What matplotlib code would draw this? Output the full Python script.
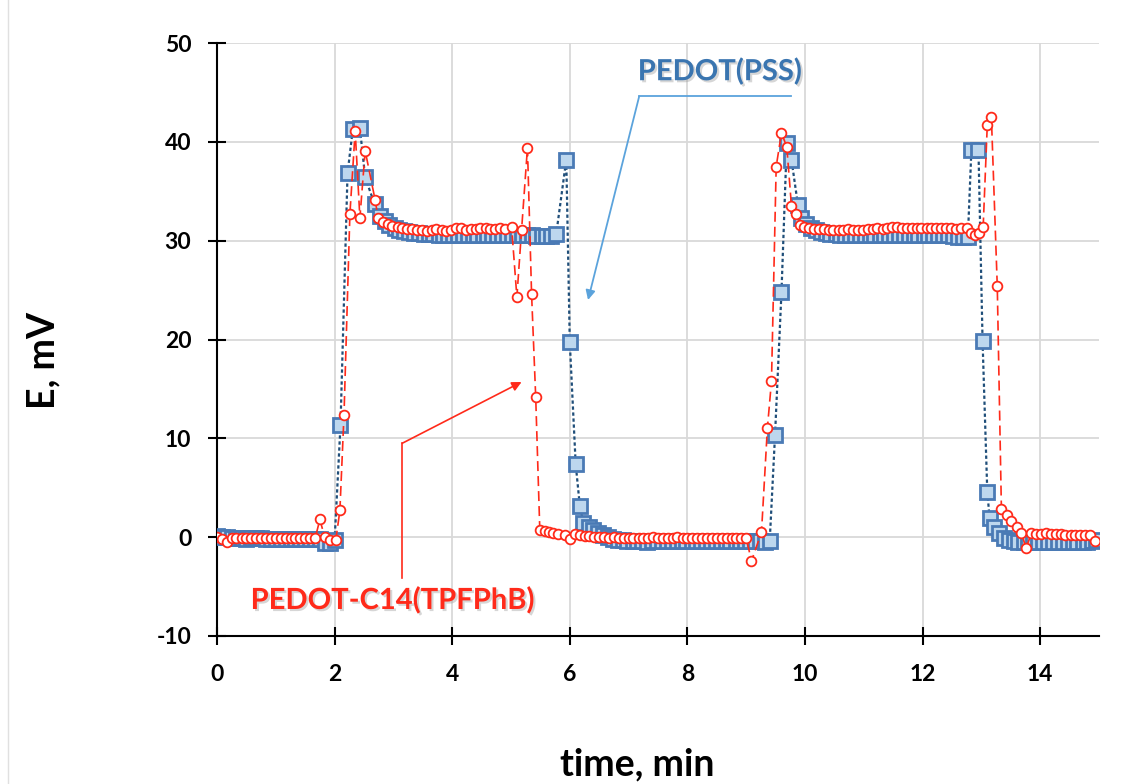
import matplotlib
matplotlib.use("Agg")
import matplotlib.pyplot as plt
import matplotlib.patheffects as pe

plt.rcParams['font.family'] = ['Lato', 'DejaVu Sans']
plt.rcParams['font.weight'] = 'bold'
plt.rcParams['axes.unicode_minus'] = False

# ---------------- data ----------------
pss_time = [0.00, 0.08, 0.17, 0.25, 0.33, 0.42, 0.50, 0.58, 0.67, 0.75, 0.83, 0.92, 1.00, 1.08, 1.17,
            1.25, 1.33, 1.42, 1.50, 1.58, 1.67, 1.75,
            1.83, 1.92, 2.00, 2.10, 2.22, 2.31, 2.43, 2.52, 2.68, 2.77, 2.85, 2.93, 3.02, 3.10, 3.18,
            3.27, 3.35,
            3.43, 3.52, 3.60, 3.68, 3.77, 3.85, 3.93, 4.02, 4.10, 4.18, 4.27, 4.35, 4.43, 4.52, 4.60,
            4.68, 4.77, 4.85, 4.93, 5.02, 5.10, 5.18, 5.27, 5.35, 5.43, 5.52, 5.60, 5.68,
            5.77, 5.94, 6.00, 6.10, 6.17, 6.23, 6.32, 6.40, 6.48, 6.57, 6.65, 6.73, 6.82, 6.90, 6.98,
            7.07, 7.15, 7.23, 7.32, 7.40, 7.48, 7.57, 7.65, 7.73, 7.82, 7.90, 7.98, 8.07, 8.15, 8.23,
            8.32, 8.40, 8.48, 8.57, 8.65, 8.73, 8.82, 8.90, 8.98, 9.07, 9.15, 9.23, 9.32, 9.40,
            9.49, 9.60, 9.69, 9.77, 9.88, 9.94, 10.02, 10.10, 10.18, 10.27, 10.35,
            10.43, 10.52, 10.60, 10.68, 10.77, 10.85, 10.93, 11.02, 11.10, 11.18, 11.27, 11.35, 11.43,
            11.52, 11.60, 11.68, 11.77, 11.85, 11.93, 12.02, 12.10, 12.18, 12.27, 12.35, 12.43, 12.52,
            12.60, 12.68, 12.77,
            12.83, 12.95, 13.02, 13.10, 13.14, 13.22, 13.30, 13.38, 13.47, 13.55, 13.63,
            13.72, 13.80, 13.88, 13.97, 14.05, 14.13, 14.22, 14.30, 14.38, 14.47, 14.55, 14.63, 14.72,
            14.80, 14.88, 14.95]
pss_mv = [0.1, 0.0, 0.0, -0.1, -0.1, -0.1, -0.2, -0.1, -0.1, -0.1, -0.2, -0.2, -0.2, -0.2, -0.2,
          -0.2, -0.2, -0.2, -0.2, -0.2, -0.2, -0.2,
          -0.6, -0.6, -0.3, 11.3, 36.8, 41.3, 41.4, 36.4, 33.7, 32.5, 32.0, 31.6, 31.3, 31.1, 31.0,
          30.9, 30.8,
          30.8, 30.7, 30.7, 30.7, 30.6, 30.6, 30.6, 30.6, 30.6, 30.6, 30.6, 30.6, 30.6, 30.6, 30.6,
          30.6, 30.6, 30.6, 30.6, 30.6, 30.6, 30.6, 30.6, 30.6, 30.5, 30.5, 30.5, 30.5,
          30.7, 38.2, 19.7, 7.4, 3.2, 1.4, 1.0, 0.7, 0.4, 0.2, 0.0, -0.2, -0.3, -0.3, -0.4,
          -0.4, -0.4, -0.4, -0.5, -0.4, -0.4, -0.4, -0.4, -0.4, -0.4, -0.4, -0.4, -0.4, -0.4, -0.4,
          -0.4, -0.4, -0.4, -0.4, -0.4, -0.4, -0.4, -0.4, -0.4, -0.4, -0.4, -0.4, -0.5, -0.4,
          10.3, 24.8, 39.9, 38.2, 33.6, 32.3, 31.7, 31.3, 31.1, 30.9, 30.8,
          30.7, 30.7, 30.6, 30.6, 30.6, 30.6, 30.6, 30.6, 30.6, 30.6, 30.6, 30.6, 30.6,
          30.6, 30.6, 30.6, 30.6, 30.6, 30.6, 30.6, 30.6, 30.6, 30.6, 30.6, 30.6, 30.5,
          30.4, 30.4, 30.4,
          39.2, 39.2, 19.8, 4.6, 1.9, 1.0, 0.4, -0.1, -0.3, -0.4, -0.5,
          -0.5, -0.5, -0.5, -0.5, -0.5, -0.5, -0.5, -0.5, -0.5, -0.5, -0.5, -0.5, -0.5,
          -0.5, -0.4, -0.3]

c14_time = [0.00, 0.08, 0.17, 0.25, 0.33, 0.42, 0.50, 0.58, 0.67, 0.75, 0.83, 0.92, 1.00, 1.08,
            1.17, 1.25, 1.33, 1.42, 1.50, 1.58, 1.67,
            1.75, 1.83, 1.92, 2.02, 2.09, 2.16, 2.26, 2.35, 2.43, 2.52, 2.69, 2.74, 2.82, 2.90, 2.98,
            3.07, 3.15, 3.23,
            3.32, 3.40, 3.48, 3.57, 3.65, 3.73, 3.82, 3.90, 3.98, 4.07, 4.15, 4.23, 4.32, 4.40, 4.48,
            4.57, 4.65, 4.73, 4.82, 4.90,
            5.01, 5.10, 5.18, 5.28, 5.35, 5.42, 5.49, 5.57, 5.64, 5.72, 5.80, 5.92, 6.00, 6.09, 6.17,
            6.25, 6.33,
            6.42, 6.50, 6.58, 6.67, 6.75, 6.83, 6.92, 7.00, 7.08, 7.17, 7.25, 7.33, 7.42, 7.50, 7.58,
            7.67, 7.75, 7.83, 7.92, 8.00, 8.08, 8.17, 8.25, 8.33, 8.42, 8.50, 8.58, 8.67, 8.75, 8.83,
            8.92, 9.00,
            9.09, 9.26, 9.36, 9.43, 9.51, 9.60, 9.69, 9.77, 9.85, 9.91, 9.98, 10.07, 10.15,
            10.23, 10.32, 10.40, 10.48, 10.57, 10.65, 10.73, 10.82, 10.90, 10.98, 11.07, 11.15, 11.23,
            11.32, 11.40, 11.48, 11.57, 11.65, 11.73, 11.82, 11.90, 11.98, 12.07, 12.15, 12.23, 12.32,
            12.40, 12.48, 12.57, 12.65,
            12.75, 12.82, 12.89, 12.96, 13.03, 13.10, 13.17, 13.27, 13.34, 13.43, 13.51, 13.60, 13.68,
            13.76, 13.85, 13.93, 14.02, 14.10, 14.18, 14.27, 14.35, 14.43, 14.52, 14.60, 14.68, 14.77,
            14.85, 14.93]
c14_mv = [0.0, -0.2, -0.5, -0.1, -0.1, -0.1, -0.1, -0.1, -0.1, -0.1, -0.1, -0.1, -0.1, -0.1,
          -0.1, -0.1, -0.1, -0.1, -0.1, -0.1, -0.1,
          1.8, 0.0, -0.3, -0.3, 2.7, 12.4, 32.7, 41.1, 32.3, 39.1, 34.1, 32.3, 31.9, 31.7, 31.5,
          31.4, 31.3, 31.2,
          31.2, 31.1, 31.1, 31.0, 31.1, 31.2, 31.1, 31.0, 31.1, 31.3, 31.3, 31.1, 31.2, 31.2, 31.3,
          31.3, 31.2, 31.2, 31.3, 31.2,
          31.4, 24.3, 31.1, 39.4, 24.6, 14.2, 0.7, 0.6, 0.5, 0.4, 0.3, 0.2, -0.2, 0.3, 0.2,
          0.1, 0.1,
          0.0, 0.0, 0.0, -0.1, 0.0, -0.1, -0.1, -0.1, -0.1, -0.1, -0.1, -0.1, 0.0, -0.1, -0.1,
          -0.1, -0.1, 0.0, -0.1, -0.1, -0.1, -0.1, -0.1, -0.1, -0.1, -0.1, -0.1, -0.1, -0.1, -0.1,
          -0.1, -0.1,
          -2.4, 0.5, 11.0, 15.8, 37.5, 40.9, 39.5, 33.5, 32.7, 31.6, 31.4, 31.3, 31.2,
          31.2, 31.2, 31.1, 31.1, 31.1, 31.1, 31.2, 31.1, 31.1, 31.1, 31.2, 31.2, 31.3,
          31.2, 31.3, 31.4, 31.4, 31.3, 31.3, 31.3, 31.3, 31.3, 31.3, 31.3, 31.3, 31.3,
          31.3, 31.3, 31.2, 31.3,
          31.3, 30.8, 30.6, 30.8, 31.4, 41.7, 42.5, 25.4, 2.9, 2.2, 1.6, 1.0, 0.4,
          -1.1, 0.4, 0.3, 0.3, 0.4, 0.3, 0.3, 0.3, 0.2, 0.2, 0.2, 0.2, 0.2,
          0.2, -0.4]

x_ticks = [0, 2, 4, 6, 8, 10, 12, 14]
y_ticks = [-10, 0, 10, 20, 30, 40, 50]
label_pss = "PEDOT(PSS)"
label_c14 = "PEDOT-C14(TPFPhB)"

# ---------------- figure ----------------
W, H = 1139, 784
fig = plt.figure(figsize=(W / 100, H / 100), dpi=100)
ax = fig.add_axes([217 / W, 1 - 636 / H, (1099 - 217) / W, (636 - 43) / H])

ax.plot(pss_time, pss_mv, linestyle=(0, (1.5, 1.2)), color='#1f4e79', linewidth=1.6,
        marker='s', markersize=10.5, markerfacecolor='#bdd7ee', markeredgecolor='#4a7ab5',
        markeredgewidth=2.0, zorder=3)
ax.plot(c14_time, c14_mv, linestyle=(0, (6, 3)), color='#ff2a1a', linewidth=1.2,
        marker='o', markersize=7, markerfacecolor='white', markeredgecolor='#ff2a1a',
        markeredgewidth=1.3, zorder=4)

ax.set_xlim(0, 15)
ax.set_ylim(-10, 50)
ax.set_xticks(x_ticks)
ax.set_yticks(y_ticks)
ax.grid(True, color='#d9d9d9', linewidth=1.3, zorder=0)
ax.set_axisbelow(True)
for s in ['top', 'right']:
    ax.spines[s].set_visible(False)
for s in ['left', 'bottom']:
    ax.spines[s].set_linewidth(1.5)
    ax.spines[s].set_color('black')
ax.tick_params(axis='both', direction='inout', length=13, width=1.5, labelsize=16.5)
ax.tick_params(axis='y', pad=12)
ax.tick_params(axis='x', pad=14)
for lab in ax.get_xticklabels() + ax.get_yticklabels():
    lab.set_fontweight('bold')

ax.set_xlabel("time, min", fontsize=27, fontweight='bold')
ax.set_ylabel("E, mV", fontsize=27, fontweight='bold')
ax.xaxis.set_label_coords(0.476, -0.188)
ax.yaxis.set_label_coords(-0.178, 0.465)

# annotations
ax.plot([9.77, 7.18], [44.6, 44.6], color='#5ba3dc', linewidth=1.3, clip_on=False)
ax.annotate("", xy=(6.31, 24.0), xytext=(7.18, 44.6),
            arrowprops=dict(arrowstyle='-|>', color='#5ba3dc', lw=1.3, mutation_scale=14,
                            shrinkA=0, shrinkB=0))
ax.text(8.55, 47.1, label_pss, color='#3a75b0', fontsize=21, fontweight='bold',
        ha='center', va='center',
        path_effects=[pe.withSimplePatchShadow(offset=(1.5, -1.5), shadow_rgbFace='#999999', alpha=0.4)])

ax.plot([3.15, 3.15], [-4.15, 9.5], color='#ff2a1a', linewidth=1.2, clip_on=False)
ax.annotate("", xy=(5.18, 15.7), xytext=(3.15, 9.5),
            arrowprops=dict(arrowstyle='-|>', color='#ff2a1a', lw=1.2, mutation_scale=14,
                            shrinkA=0, shrinkB=0))
ax.text(2.98, -6.4, label_c14, color='#ff2a1a', fontsize=21, fontweight='bold',
        ha='center', va='center',
        path_effects=[pe.withSimplePatchShadow(offset=(1.5, -1.5), shadow_rgbFace='#999999', alpha=0.4)])

# faint frame line at left edge of the image
fig.add_artist(plt.Line2D([8 / W, 8 / W], [0, 1], color='#e0e0e0', linewidth=1.0))

fig.savefig("out.png", dpi=100)
